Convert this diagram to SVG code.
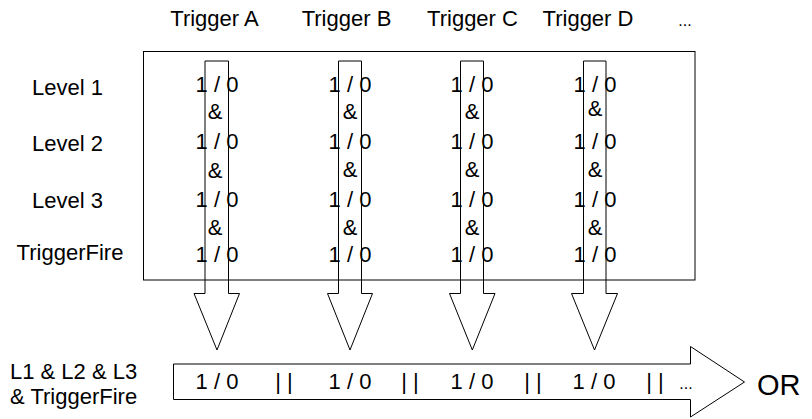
<svg xmlns="http://www.w3.org/2000/svg" width="812" height="419" viewBox="0 0 812 419">
<style>
text{font-family:"Liberation Sans",Arial,sans-serif;font-size:22px;fill:#000}
.c{text-anchor:middle}
.ln{fill:none;stroke:#000;stroke-width:1}
</style>
<rect width="812" height="419" fill="#fff"/>
<g id="headers">
<text class="c" x="214.5" y="26">Trigger A</text>
<text class="c" x="346.5" y="26">Trigger B</text>
<text class="c" x="472.5" y="26">Trigger C</text>
<text class="c" x="588" y="26">Trigger D</text>
<text class="c" x="685" y="26" style="font-size:16px">...</text>
</g>
<g id="level-labels">
<text class="c" x="67.5" y="95">Level 1</text>
<text class="c" x="67.5" y="151">Level 2</text>
<text class="c" x="67.5" y="208">Level 3</text>
<text class="c" x="70" y="260">TriggerFire</text>
</g>
<g id="matrix-box">
<rect class="ln" x="143.5" y="51.5" width="551.5" height="228.5"/>
</g>
<g id="connectors">
<polygon id="arrow-a" class="ln" points="205,61 228.5,61 228.5,293.5 239.5,293.5 217,350 194,293.5 205,293.5"/>
<polygon id="arrow-b" class="ln" points="338.5,61 361.5,61 361.5,293.5 372.5,293.5 350,350 327.5,293.5 338.5,293.5"/>
<polygon id="arrow-c" class="ln" points="460.5,61 483.5,61 483.5,293.5 495,293.5 472.3,350 449.5,293.5 460.5,293.5"/>
<polygon id="arrow-d" class="ln" points="583.5,61 606,61 606,293.5 617.5,293.5 594.5,350 571.5,293.5 583.5,293.5"/>
<polygon id="arrow-or" class="ln" points="173.5,364 690.5,364 690.5,346.5 744.5,382 690.5,417 690.5,399.5 173.5,399.5"/>
</g>
<g id="col-a">
<text class="c" x="217" y="92">1 / 0</text>
<text class="c" x="215" y="119">&amp;</text>
<text class="c" x="217" y="149">1 / 0</text>
<text class="c" x="215" y="178">&amp;</text>
<text class="c" x="217" y="207">1 / 0</text>
<text class="c" x="215" y="235">&amp;</text>
<text class="c" x="217" y="262">1 / 0</text>
</g>
<g id="col-b">
<text class="c" x="350" y="92">1 / 0</text>
<text class="c" x="350" y="119">&amp;</text>
<text class="c" x="350" y="149">1 / 0</text>
<text class="c" x="350" y="177">&amp;</text>
<text class="c" x="350" y="207">1 / 0</text>
<text class="c" x="350" y="235">&amp;</text>
<text class="c" x="350" y="262">1 / 0</text>
</g>
<g id="col-c">
<text class="c" x="472" y="92">1 / 0</text>
<text class="c" x="472" y="119">&amp;</text>
<text class="c" x="472" y="149">1 / 0</text>
<text class="c" x="472" y="177">&amp;</text>
<text class="c" x="472" y="207">1 / 0</text>
<text class="c" x="472" y="235">&amp;</text>
<text class="c" x="472" y="262">1 / 0</text>
</g>
<g id="col-d">
<text class="c" x="595" y="92">1 / 0</text>
<text class="c" x="595" y="115.5">&amp;</text>
<text class="c" x="595" y="149">1 / 0</text>
<text class="c" x="595" y="177">&amp;</text>
<text class="c" x="595" y="207">1 / 0</text>
<text class="c" x="595" y="235">&amp;</text>
<text class="c" x="595" y="262">1 / 0</text>
</g>
<g id="result-label">
<text x="10" y="379">L1 &amp; L2 &amp; L3</text>
<text x="10" y="404">&amp; TriggerFire</text>
</g>
<g id="result-row">
<text class="c" x="217" y="389">1 / 0</text>
<text class="c" x="284" y="389">| |</text>
<text class="c" x="350" y="389">1 / 0</text>
<text class="c" x="410" y="389">| |</text>
<text class="c" x="472" y="389">1 / 0</text>
<text class="c" x="533" y="389">| |</text>
<text class="c" x="594" y="389">1 / 0</text>
<text class="c" x="655" y="389">| |</text>
<text class="c" x="686" y="389" style="font-size:16px">...</text>
</g>
<g id="or-label">
<text x="757" y="395" style="font-size:29px">OR</text>
</g>
</svg>
